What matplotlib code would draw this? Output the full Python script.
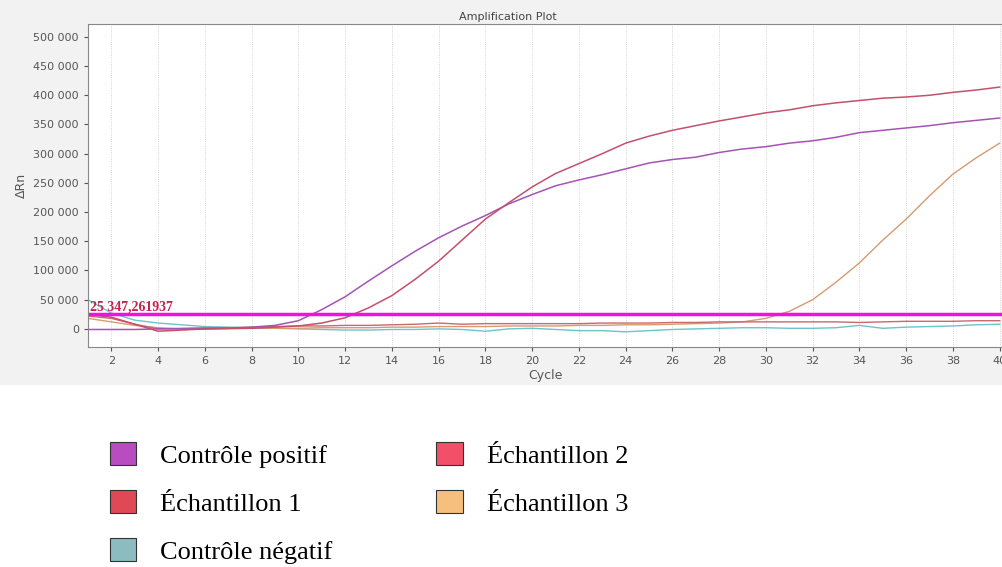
import matplotlib.pyplot as plt
from matplotlib.patches import Patch, Rectangle

# qPCR amplification curves (Delta Rn per cycle)
cycles = list(range(1, 41))

positif = [-1000, -1000, -1000, 0, 0, 0, 1000, 3000, 6000, 14000,
           33000, 55000, 82000, 108000, 133000, 156000, 176000, 194000, 214000, 230000,
           245000, 255000, 264000, 274000, 284000, 290000, 294000, 302000, 308000, 312000,
           318000, 322000, 328000, 336000, 340000, 344000, 348000, 353000, 357000, 361000]

echant1 = [25000, 20000, 8000, -4000, -2000, 0, 1000, 1000, 3000, 5000,
           10000, 19000, 36000, 57000, 85000, 116000, 152000, 188000, 216000, 243000,
           266000, 283000, 300000, 318000, 330000, 340000, 348000, 356000, 363000, 370000,
           375000, 382000, 387000, 391000, 395000, 397000, 400000, 405000, 409000, 414000]

echant2 = [22000, 18000, 8000, 0, 1000, 2000, 2000, 3000, 4000, 5000,
           5000, 6000, 6000, 7000, 8000, 10000, 8000, 9000, 9000, 9000,
           9000, 9000, 10000, 10000, 10000, 11000, 11000, 12000, 12000, 12000,
           12000, 12000, 12000, 11000, 12000, 13000, 13000, 13000, 14000, 14000]

echant3 = [18000, 12000, 6000, 2000, 0, 0, 0, 1000, 1000, 1000,
           2000, 2000, 2000, 3000, 3000, 4000, 4000, 4000, 5000, 5000,
           5000, 6000, 6000, 7000, 7000, 8000, 9000, 10000, 12000, 18000,
           30000, 50000, 80000, 113000, 152000, 188000, 228000, 265000, 293000, 318000]

negatif = [50000, 27000, 15000, 10000, 7000, 4000, 3000, 2000, 1000, 0,
           -1000, -2000, -2000, -1000, -1000, 0, -1000, -4000, 0, 1000,
           -1000, -3000, -3000, -5000, -3000, -1000, 0, 1000, 2000, 2000,
           1000, 1000, 2000, 6000, 1000, 3000, 4000, 5000, 7000, 8000]

threshold = 25347.261937

labels = ['Contrôle positif', 'Échantillon 1', 'Contrôle négatif', 'Échantillon 2', 'Échantillon 3']
box_colors = ['#b84cc0', '#e04856', '#8cbcc0', '#f24f68', '#f6c07c']

fig = plt.figure(figsize=(10.02, 5.67), dpi=100)
fig.patches.append(Rectangle((0, 1 - 385 / 567), 1, 385 / 567, transform=fig.transFigure,
                             facecolor='#f2f2f2', edgecolor='none', zorder=-1))

ax = fig.add_axes([88 / 1002, 1 - 347 / 567, 914 / 1002, 323 / 567])
ax.set_facecolor('white')

ax.plot(cycles, negatif, color='#6cc4cc', lw=1)
ax.plot(cycles, echant3, color='#d89a70', lw=1)
ax.plot(cycles, echant2, color='#c86870', lw=1)
ax.plot(cycles, positif, color='#a554b4', lw=1.1)
ax.plot(cycles, echant1, color='#c4506c', lw=1.1)
ax.axhline(threshold, color='#f010e0', lw=2.5)
ax.text(1.1, threshold + 1500, f'{threshold:,.6f}'.replace(',', ' ').replace('.', ','),
        color='#c8204a', fontsize=10, fontweight='bold', family='Liberation Serif', va='bottom')

ax.set_xlim(1, 40.1)
ax.set_ylim(-31000, 522000)
ax.set_xticks(range(2, 41, 2))
ax.set_yticks(range(0, 500001, 50000))
ax.set_yticklabels([f'{v:,}'.replace(',', ' ') for v in range(0, 500001, 50000)])
ax.tick_params(labelsize=8, colors='#555555', length=3)
ax.grid(axis='x', color='#c8c8c8', lw=0.6, ls=':')
for s in ax.spines.values():
    s.set_color('#888888')

ax.set_title('Amplification Plot', fontsize=8, color='#444444', pad=3, x=(508 - 88) / 914)
ax.set_xlabel('Cycle', fontsize=9, color='#555555', labelpad=2)
ax.set_ylabel('ΔRn', fontsize=9, color='#555555')

handles = [Patch(facecolor=c, edgecolor='#333333', lw=0.8) for c in box_colors]
fig.legend(handles, labels, ncol=2, loc='upper left', bbox_to_anchor=(86 / 1002, 1 - 418 / 567),
           frameon=False, prop={'family': 'Liberation Serif', 'size': 19},
           handlelength=1.0, handleheight=1.0, handletextpad=0.9,
           labelspacing=0.84, columnspacing=3.95)

fig.savefig('out.png', dpi=100)
